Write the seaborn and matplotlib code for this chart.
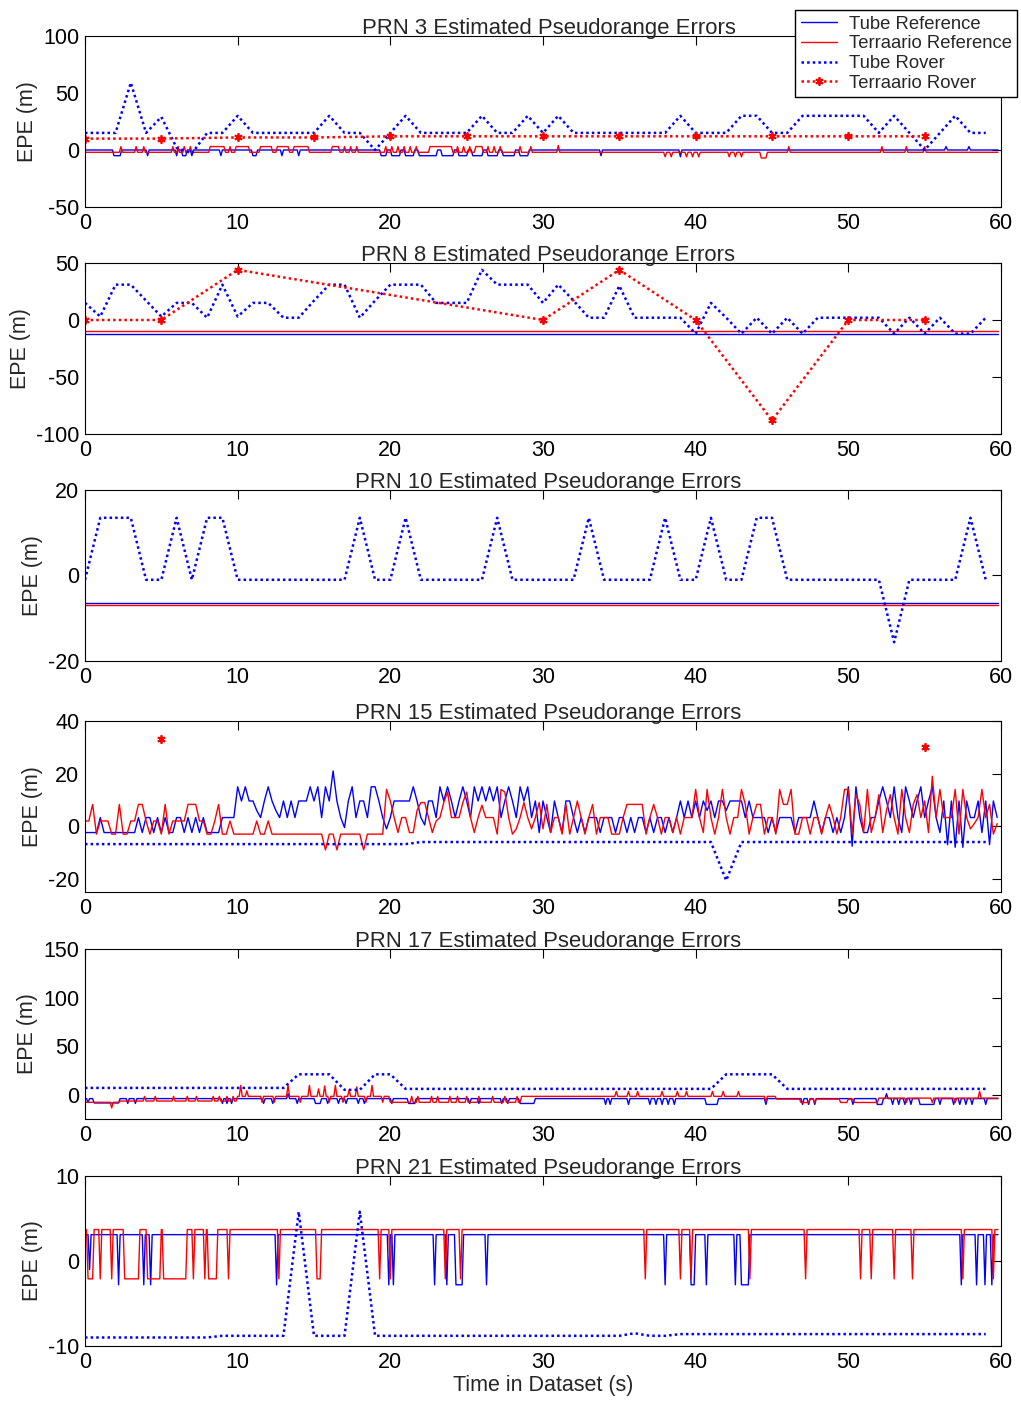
import numpy as np
import pandas as pd
import matplotlib
matplotlib.use("Agg")
import matplotlib.pyplot as plt
import seaborn as sns

# ---------------------------------------------------------------- data
PRNS = [3, 8, 10, 15, 17, 21]
SERIES_NAMES = ["Tube Reference", "Terraario Reference", "Tube Rover", "Terraario Rover"]
X_TICKS = [0, 10, 20, 30, 40, 50, 60]
Y_LIMS = [(-50, 100), (-100, 50), (-20, 20), (-25, 40), (-25, 150), (-10, 10)]
Y_TICKS = [[-50, 0, 50, 100], [-100, -50, 0, 50], [-20, 0, 20],
           [-20, 0, 20, 40], [0, 50, 100, 150], [-10, 0, 10]]

REF_END = 59.8          # last reference epoch (s)
ROVER_T = list(range(60))            # rover epochs, 1 s
TERRA_T = list(range(0, 60, 5))      # Terraario rover epochs, 5 s

# ---- PRN 3
tube_ref_3_base = [(0, 0.0)]
tube_ref_3_events = [(1.9, 2.3, -5), (4.1, 4.1, -5), (6.0, 6.0, -5), (6.4, 6.6, -5), (7.0, 7.0, -5),
                     (8.9, 8.9, -5), (11.0, 11.2, -5), (12.9, 12.9, -5), (14.0, 14.0, -5),
                     (19.4, 19.7, -5), (20.1, 20.6, -5), (21.0, 21.5, -5), (21.9, 23.0, -5),
                     (23.4, 24.1, -5), (24.5, 25.0, -5), (25.4, 26.0, -5), (26.4, 27.0, -5),
                     (27.4, 28.1, -5), (28.5, 29.0, -5), (33.8, 33.8, -5), (39.0, 39.0, -6),
                     (56.4, 56.4, 3), (57.9, 57.9, 3)]
terra_ref_3_base = [(0, -2.0)]
terra_ref_3_events = [(2.35, 2.35, 3), (3.35, 3.35, 3), (3.85, 3.85, 3), (5.75, 5.75, 3), (6.1, 6.1, 3),
                      (6.5, 6.5, 3), (6.9, 6.9, 3), (8.2, 9.1, 3), (9.5, 9.5, 3), (9.9, 10.7, 3),
                      (11.5, 12.2, 3), (12.6, 13.3, 3), (13.7, 14.6, 3), (16.2, 16.6, 3), (17.0, 17.0, 3),
                      (17.4, 17.4, 3), (17.8, 17.8, 3), (19.7, 19.7, 3), (20.1, 20.1, 3), (20.5, 20.5, 3),
                      (20.9, 20.9, 3), (21.3, 21.3, 3), (21.7, 21.7, 3), (22.6, 24.0, 3), (24.4, 24.4, 3),
                      (24.8, 24.8, 3), (25.2, 25.2, 3), (25.6, 26.0, 3), (26.4, 26.4, 3), (26.8, 26.8, 3),
                      (27.2, 27.2, 3), (28.5, 28.5, 3), (29.2, 29.2, 3), (31.0, 31.0, 4), (38.0, 38.0, -6),
                      (38.4, 38.4, -6), (39.4, 39.4, -6), (39.8, 39.8, -6), (40.2, 40.2, -6), (42.2, 42.2, -6),
                      (42.6, 42.6, -6), (43.0, 43.0, -6), (44.3, 44.6, -7), (46.1, 46.1, 3), (52.2, 52.2, 3),
                      (53.8, 53.8, 3), (55.0, 55.0, 3)]
tube_rover_3 = [15, 15, 15, 59, 15, 29, 2, -3, 15, 15,
                30, 15, 15, 15, 15, 15, 30, 15, 15, 0,
                15, 30, 15, 15, 15, 15, 30, 15, 15, 30,
                15, 30, 15, 15, 15, 15, 15, 15, 15, 30,
                15, 15, 15, 30, 30, 15, 15, 30, 30, 30,
                30, 30, 15, 30, 15, 0, 15, 30, 15, 15]
terra_rover_3 = [10, 10, 11, 11, 12, 12, 12, 12, 12, 12, 12, 12]

# ---- PRN 8
tube_ref_8_base = [(0, -12.0)]
terra_ref_8_base = [(0, -10.0)]
tube_rover_8 = [15, 3, 31, 31, 17, 3, 15, 15, 2, 31,
                3, 15, 15, 2, 2, 17, 31, 31, 2, 17,
                31, 31, 31, 15, 15, 15, 44, 31, 31, 31,
                15, 31, 17, 2, 2, 30, 2, 2, 2, 2,
                -12, 15, 2, -12, 2, -12, 2, -12, 2, 2,
                2, 2, 2, -12, 2, -12, 2, -12, -12, 2]
terra_rover_8_t = [0, 5, 10, 30, 35, 40, 45, 50, 55]
terra_rover_8 = [0, 0, 44, 0, 44, 0, -88, 0, 0]

# ---- PRN 10
tube_ref_10_base = [(0, -6.5)]
terra_ref_10_base = [(0, -6.9)]
tube_rover_10 = [-1, 13.5, 13.5, 13.5, -1, -1, 13.5, -1, 13.5, 13.5,
                 -1, -1, -1, -1, -1, -1, -1, -1, 13.5, -1,
                 -1, 13.5, -1, -1, -1, -1, -1, 13.5, -1, -1,
                 -1, -1, -1, 13.5, -1, -1, -1, -1, 13.5, -1,
                 -1, 13.5, -1, -1, 13.5, 13.5, -1, -1, -1, -1,
                 -1, -1, -1, -15.6, -1, -1, -1, -1, 13.5, -1]

# ---- PRN 15 (references sampled every 0.25 s)
REF15_DT = 0.25
tube_ref_15 = [
    -2.4, -2.4, -2.4, -2.4, 3.3, -2.4, -2.4, -2.4, -2.4, -2.4, -2.4, -2.4, -2.4, -2.4, 3.3, -2.4, 3.3, 3.3, -2.4, 3.3,
    -2.4, 3.3, -2.4, -2.4, 3.3, 3.3, -2.4, 3.3, -2.4, 3.3, -2.4, 3.3, -2.4, -2.4, -2.4, -2.4, 3.3, 3.3, 3.3, 3.3,
    15, 9.6, 15, 9.6, 9.6, 6, 3.3, 9.6, 15, 9.6, 6, 3.3, 9.6, 3.3, 9.6, 3.3, 9.6, 9.6, 9.6, 15,
    9.6, 15, 3.3, 15, 9.6, 21, 9.6, 3.3, -0.5, 9.6, 15, 3.3, 9.6, 9.6, 3.3, 15, 15, 9.6, 3.3, -1,
    3.3, 9.6, 9.6, 9.6, 9.6, 9.6, 15, 9.6, 3.3, 0.5, 9.6, 9.6, 3.3, 15, 9.6, 15, 9.6, 3.3, 9.6, 15,
    9.6, 3.3, 15, 9.6, 15, 9.6, 15, 9.6, 15, 3.3, 9.6, 15, 9.6, 3.3, 15, 9.6, 15, 3.3, 9.6, -2.4,
    9.6, 3.3, -2.4, 9.6, 3.3, -2.4, 9.6, 9.6, 3.3, -2.4, 3.3, -2.4, 3.3, 3.3, 3.3, -2.4, 3.3, 3.3, 3.3, -2.4,
    3.3, 3.3, -2.4, 3.3, -2.4, 3.3, 3.3, -2.4, 3.3, -2.4, 3.3, 3.3, -2.4, 3.3, -2.4, 3.3, 9.6, 3.3, 9.6, 3.3,
    9.6, 3.3, 9.6, 6, 9.6, 3.3, 9.6, 9.6, 6, 9.6, 9.6, 9.6, 9.6, 3.3, 9.6, 3.3, 3.3, 3.3, 3.3, -2.4,
    3.3, -2.4, 3.3, 3.3, 3.3, 3.3, -2.4, 3.3, 3.3, 3.3, 3.3, 9.6, 3.3, -2.4, 3.3, 3.3, -2.4, 3.3, -2.4, 3.3,
    15, -7.6, 15, 3.3, -2.4, -2.4, 3.3, 3.3, 9.6, 15, 9.6, 3.3, 15, 3.3, -2.4, 15, 9.6, 3.3, 9.6, 15,
    3.3, 9.6, 15, 3.3, -2.4, 9.6, -7, 9.6, -8, 9.6, -8, 9.6, 3.3, 3.3, 9.6, -2.4, 9.6, -7, 9.6, 3.3,
]
terra_ref_15 = [
    2, 2, 8.3, -3, 2, 2, 2, -3, -3, 8.3, -3, -3, 2, 2, 8.3, 8.3, 2, -3, 2, 2,
    -3, 8.3, -3, 2, 2, 2, 2, 8.3, 8.3, 8.3, 2, 2, -3, -3, 2, 8.3, -3, -3, 2, -3,
    -3, -3, -3, -3, -3, 2, -3, -3, 2, -3, -3, -3, -3, -3, -3, -3, -3, -3, -3, -3,
    -3, -3, -3, -9, -3, -3, -9, -3, -3, -3, -3, -3, -3, -9, -3, -3, -3, -3, -3, 14,
    9.6, 3.3, -2.4, 3.3, 3.3, -2.4, -2.4, 6, 9, 9, 3.3, -2.4, 2, 3.3, 9, 13, 3.3, 3.3, 3.3, 9,
    13, 3.3, -2.4, 3.3, 8, 3.3, 3.3, 3.3, -3, 14, 13, 3.3, -3, -1, 3.3, 9, 3.3, -1, 3.3, 9,
    -1, 8.3, -2.4, 3.3, 3.3, -3, 8.3, -3, 3.3, 9.6, 3.3, -3, 3.3, 8.3, -3, 3.3, 3.3, 3.3, -3, -3,
    -3, 3.3, 8.3, 8.3, 8.3, 8.3, 8.3, -3, 3.3, 8.3, 3.3, -3, 3.3, 3.3, -2.4, 3.3, -3, 3.3, 3.3, 3.3,
    14, 3.3, -2.4, 14, 3.3, -3, 3.3, 14, 3.3, -3, 3.3, 3.3, 14, 8.3, -3, 3.3, 8.3, 8.3, -3, 3.3,
    3.3, -3, 14, 8.3, 8.3, 14, -3, -3, 3.3, 3.3, -3, 3.3, 3.3, -3, 3.3, 8.3, 3.3, -3, 3.3, 14,
    14, -3, 12, 8.3, -2.4, 14, -2.4, 3.3, 12, -2.4, 6, 12, 3.3, -3, 14, 3.3, -2.4, 8.3, 12, 3.3,
    9.6, -2.4, 19, 3.3, 14, 3.3, 3.3, 3.3, 14, -3, 14, 3.3, -1, 1, 3.3, 14, 3.3, 8.3, -3, 1,
]
tube_rover_15 = [-6.8] * 22 + [-6, -6, -6, -6, -6, -6, -6, -6, -6, -6,
                               -6, -6, -6, -6, -6, -6, -6, -6, -6, -6,
                               -20.6, -6, -6, -6, -6, -6, -6, -6, -6, -6,
                               -6, -6, -6, -6, -6, -6, -6, -6]
terra_rover_15 = [np.nan, 33, np.nan, np.nan, np.nan, np.nan,
                  np.nan, np.nan, np.nan, np.nan, np.nan, 30]

# ---- PRN 17
tube_ref_17_base = [(0, -4.0)]
tube_ref_17_events = [(0.2, 0.2, -8), (0.6, 2.2, -8.5), (2.8, 2.8, -9), (3.3, 3.3, -9), (9.0, 9.0, -9),
                      (9.3, 9.3, -9), (9.6, 9.6, -9), (11.7, 11.7, -9), (12.3, 12.3, -9), (13.3, 13.3, 1),
                      (13.9, 13.9, -9), (15.1, 15.4, -9), (15.9, 15.9, -9), (16.6, 16.6, -9), (17.1, 17.1, -9),
                      (17.9, 17.9, -9), (18.3, 18.3, -9), (20.1, 20.1, -9), (21.2, 21.6, -9), (25.2, 25.2, -9),
                      (25.8, 25.8, -9), (27.3, 27.3, -9), (27.7, 27.7, -9), (28.5, 29.4, -9), (34.1, 34.1, -10),
                      (34.4, 34.4, -10), (35.6, 35.6, -10), (37.0, 37.0, -10), (37.4, 37.4, -10),
                      (37.8, 37.8, -10), (38.2, 38.2, -10), (38.6, 38.6, -10), (40.7, 41.4, -10),
                      (44.6, 44.6, -10), (47.0, 47.0, -10), (47.4, 47.4, -10), (47.8, 47.8, -10),
                      (50.3, 50.3, -10), (51.9, 52.2, -10), (52.5, 52.5, 1), (52.9, 52.9, -10),
                      (53.3, 53.3, -10), (53.7, 53.7, -10), (54.1, 54.1, -10), (54.7, 55.6, -10),
                      (56.0, 56.0, -10), (56.9, 56.9, -10), (57.3, 57.3, -10), (57.7, 57.7, -10),
                      (58.1, 58.1, -10), (59.0, 59.0, -10)]
terra_ref_17_base = [(0, -7.8), (2.3, -6.5), (10.0, -1.7), (20.0, -7.8), (28.6, -1.7),
                     (45.3, -4.5), (50.4, -8.0), (52.0, -3.5)]
terra_ref_17_events = [(1.75, 1.75, -13.6), (3.9, 3.9, -1.7), (4.6, 4.6, -1.7), (5.8, 5.8, -1.7),
                       (6.7, 6.7, -1.7), (7.3, 7.3, -1.7), (8.4, 8.4, -1.7), (8.8, 8.8, -1.7),
                       (9.3, 9.3, -1.7), (9.7, 9.7, -1.7), (10.2, 10.2, 9.6), (10.6, 10.6, 4),
                       (11.6, 11.6, -7.8), (12.4, 12.4, -7.8), (13.3, 13.3, 9.6), (14.1, 14.1, -7.8),
                       (14.7, 14.7, 9.6), (15.3, 15.3, 6), (15.7, 15.7, 9), (16.0, 16.0, -7.8),
                       (16.4, 16.4, 9.6), (16.9, 16.9, -7.8), (17.3, 17.3, 5), (17.8, 17.8, 8),
                       (18.4, 18.4, -7.8), (18.8, 18.8, 9.6), (19.5, 19.5, -7.8), (21.4, 21.4, -1.7),
                       (21.8, 21.8, -1.7), (22.7, 22.7, -1.7), (23.1, 23.1, -1.7), (23.9, 23.9, -1.7),
                       (24.4, 24.4, -1.7), (25.0, 25.0, -1.7), (25.8, 25.8, -1.7), (26.7, 26.7, -1.7),
                       (27.5, 27.5, -1.7), (28.3, 28.3, -1.7), (34.8, 34.8, 3.4), (35.6, 35.6, 3.4),
                       (36.2, 36.2, 3.4), (37.8, 37.8, 3.4), (38.8, 38.8, 3.4), (39.4, 39.4, 3.4),
                       (41.1, 41.1, 3.4), (41.8, 41.8, 3.4), (42.8, 42.8, 3.4), (44.6, 44.6, -7),
                       (46.9, 47.4, -8), (47.8, 47.8, -8), (49.5, 49.9, -8), (53.8, 53.8, -8),
                       (55.5, 55.5, -8), (57.0, 57.0, -8), (58.6, 58.6, 3.4)]
tube_rover_17 = [7, 7, 7, 7, 7, 7, 7, 7, 7, 7,
                 7, 7, 7, 7, 21, 21, 21, 5, 5, 21,
                 21, 6, 6, 6, 6, 6, 6, 6, 6, 6,
                 6, 6, 6, 6, 6, 6, 6, 6, 6, 6,
                 6, 6, 21, 21, 21, 21, 6, 6, 6, 6,
                 6, 6, 6, 6, 6, 6, 6, 6, 6, 6]

# ---- PRN 21
tube_ref_21_base = [(0, 3.1)]
tube_ref_21_events = [(0.3, 0.3, -1), (2.2, 2.2, -2.8), (3.85, 3.85, -2.8), (4.3, 4.3, -2.8),
                      (12.55, 12.55, -2.8), (19.9, 19.9, -2.8), (20.2, 20.2, -2.8), (22.9, 22.9, -2.8),
                      (23.7, 23.7, -2.8), (24.3, 24.7, -2.8), (26.3, 26.3, -2.8), (38.0, 38.0, -2.8),
                      (39.7, 39.9, -2.8), (40.7, 40.7, -2.8), (42.6, 42.6, -2.8), (43.0, 43.45, -2.8),
                      (57.4, 57.4, -2.8), (58.4, 58.4, -2.8), (58.95, 58.95, -2.8), (59.4, 59.4, -2.8)]
terra_ref_21_base = [(0, 3.7)]
terra_ref_21_events = [(0.2, 0.5, -2.1), (1.0, 1.0, -2.1), (1.75, 1.75, -2.1), (2.6, 3.5, -2.1),
                       (4.1, 4.9, -2.1), (5.15, 6.6, -2.1), (7.1, 7.1, -2.1), (7.85, 7.85, -2.1),
                       (8.1, 8.6, -2.1), (9.4, 9.4, -2.1), (12.7, 12.7, -2.1), (15.2, 15.4, -2.1),
                       (19.3, 19.3, -2.1), (20.0, 20.0, -2.1), (23.6, 23.6, -2.1), (24.6, 24.6, -2.1),
                       (36.7, 36.7, -2.1), (39.0, 39.0, -2.1), (39.7, 39.7, -2.1), (43.55, 43.55, -2.1),
                       (47.2, 47.2, -2.1), (50.8, 50.8, -2.1), (51.5, 51.5, -2.1), (53.0, 53.0, -2.1),
                       (54.2, 54.2, -2.1), (57.5, 57.5, -2.1), (59.5, 59.5, -2.1)]
tube_rover_21 = [-9, -9, -9, -9, -9, -9, -9, -9, -9, -8.8,
                 -8.8, -8.8, -8.8, -8.8, 5.8, -8.8, -8.8, -8.8, 5.8, -8.8,
                 -8.8, -8.8, -8.8, -8.8, -8.8, -8.8, -8.8, -8.8, -8.8, -8.8,
                 -8.8, -8.8, -8.8, -8.8, -8.8, -8.8, -8.5, -8.8, -8.8, -8.6,
                 -8.6, -8.6, -8.6, -8.6, -8.6, -8.6, -8.6, -8.6, -8.6, -8.6,
                 -8.6, -8.6, -8.6, -8.6, -8.6, -8.6, -8.6, -8.6, -8.6, -8.6]


# ---------------------------------------------------------------- helpers
def trace(bases, events, t_end, ramp=0.1):
    """Polyline for a reference trace: piecewise base level plus excursions."""
    def base_at(t):
        b = bases[0][1]
        for tb, vb in bases:
            if tb <= t:
                b = vb
        return b
    pts = [(0.0, bases[0][1])]
    for tb, vb in bases[1:]:
        pts += [(tb - ramp, base_at(tb - ramp)), (tb, vb)]
    for a, b, lvl in events:
        pts += [(a - ramp, base_at(a - ramp)), (a, lvl), (b, lvl), (b + ramp, base_at(b + ramp))]
    pts.append((t_end, base_at(t_end)))
    pts.sort(key=lambda p: p[0])
    t, v = zip(*pts)
    return list(t), list(v)


BLUE = "#0000ff"
RED = "#ff0000"
DOTS = (0, (1, 1.25))
STYLE = {
    "Tube Reference": dict(color=BLUE, lw=1.0, linestyle="-"),
    "Terraario Reference": dict(color=RED, lw=1.0, linestyle="-"),
    "Tube Rover": dict(color=BLUE, lw=1.8, linestyle=DOTS),
    "Terraario Rover": dict(color=RED, lw=1.8, linestyle=DOTS, marker=(6, 2, 0),
                            markersize=6, mec=RED, mfc=RED, mew=1.3),
}


def draw(ax, t, v, name):
    """Draw one series; gaps (NaN) break the line into separate runs."""
    df = pd.DataFrame({"t": np.asarray(t, float), "v": np.asarray(v, float)})
    run = df["v"].isna().cumsum()
    for _, part in df[df["v"].notna()].groupby(run[df["v"].notna()]):
        sns.lineplot(data=part, x="t", y="v", ax=ax, estimator=None, sort=False,
                     legend=False, **STYLE[name])


# ---------------------------------------------------------------- figure
sns.set_style("white")
plt.rcParams["font.family"] = ["Liberation Sans", "DejaVu Sans"]
plt.rcParams["axes.linewidth"] = 0.8
plt.rcParams["axes.unicode_minus"] = False

W, H = 1021, 1401
fig = plt.figure(figsize=(W / 100, H / 100), dpi=100)
tops = [36, 263, 490, 721, 949, 1176]
bottoms = [207, 434, 661, 892, 1119, 1346]
left, right = 85, 1001

axes = []
for top, bot in zip(tops, bottoms):
    ax = fig.add_axes([left / W, 1 - bot / H, (right - left) / W, (bot - top) / H])
    axes.append(ax)

# PRN 3
ax = axes[0]
draw(ax, *trace(tube_ref_3_base, tube_ref_3_events, REF_END), "Tube Reference")
draw(ax, *trace(terra_ref_3_base, terra_ref_3_events, REF_END), "Terraario Reference")
draw(ax, ROVER_T, tube_rover_3, "Tube Rover")
draw(ax, TERRA_T, terra_rover_3, "Terraario Rover")
legend_handles = list(ax.get_lines())

# PRN 8
ax = axes[1]
draw(ax, *trace(tube_ref_8_base, [], REF_END), "Tube Reference")
draw(ax, *trace(terra_ref_8_base, [], REF_END), "Terraario Reference")
draw(ax, ROVER_T, tube_rover_8, "Tube Rover")
draw(ax, terra_rover_8_t, terra_rover_8, "Terraario Rover")

# PRN 10
ax = axes[2]
draw(ax, *trace(tube_ref_10_base, [], REF_END), "Tube Reference")
draw(ax, *trace(terra_ref_10_base, [], REF_END), "Terraario Reference")
draw(ax, ROVER_T, tube_rover_10, "Tube Rover")

# PRN 15
ax = axes[3]
draw(ax, np.arange(len(tube_ref_15)) * REF15_DT, tube_ref_15, "Tube Reference")
draw(ax, np.arange(len(terra_ref_15)) * REF15_DT, terra_ref_15, "Terraario Reference")
draw(ax, ROVER_T, tube_rover_15, "Tube Rover")
draw(ax, TERRA_T, terra_rover_15, "Terraario Rover")

# PRN 17
ax = axes[4]
draw(ax, *trace(tube_ref_17_base, tube_ref_17_events, REF_END), "Tube Reference")
draw(ax, *trace(terra_ref_17_base, terra_ref_17_events, REF_END), "Terraario Reference")
draw(ax, ROVER_T, tube_rover_17, "Tube Rover")

# PRN 21
ax = axes[5]
draw(ax, *trace(tube_ref_21_base, tube_ref_21_events, REF_END), "Tube Reference")
draw(ax, *trace(terra_ref_21_base, terra_ref_21_events, REF_END), "Terraario Reference")
draw(ax, ROVER_T, tube_rover_21, "Tube Rover")

FS = 15.5
for ax, prn, ylim, yt in zip(axes, PRNS, Y_LIMS, Y_TICKS):
    ax.set_xlim(0, 60)
    ax.set_ylim(*ylim)
    ax.set_xticks(X_TICKS)
    ax.set_yticks(yt)
    ax.tick_params(direction="in", top=True, right=True, length=6.5, width=0.8,
                   labelsize=FS, pad=4, colors="black")
    for s in ax.spines.values():
        s.set_color("black")
        s.set_linewidth(0.8)
    ax.set_title(f"PRN {prn} Estimated Pseudorange Errors", fontsize=15.9, pad=1.5, x=0.506)
    ax.set_ylabel("EPE (m)", fontsize=FS, labelpad=4)
    ax.set_xlabel("")

axes[-1].set_xlabel("Time in Dataset (s)", fontsize=FS, labelpad=2)

fig.legend(legend_handles, SERIES_NAMES, loc="upper left",
           bbox_to_anchor=(795 / W, 1 - 10 / H), frameon=True, fancybox=False,
           edgecolor="black", framealpha=1, fontsize=13.3, handlelength=2.0,
           handletextpad=0.6, labelspacing=0.15, borderpad=0.3, borderaxespad=0)

fig.savefig("out.png", dpi=100, facecolor="white")
